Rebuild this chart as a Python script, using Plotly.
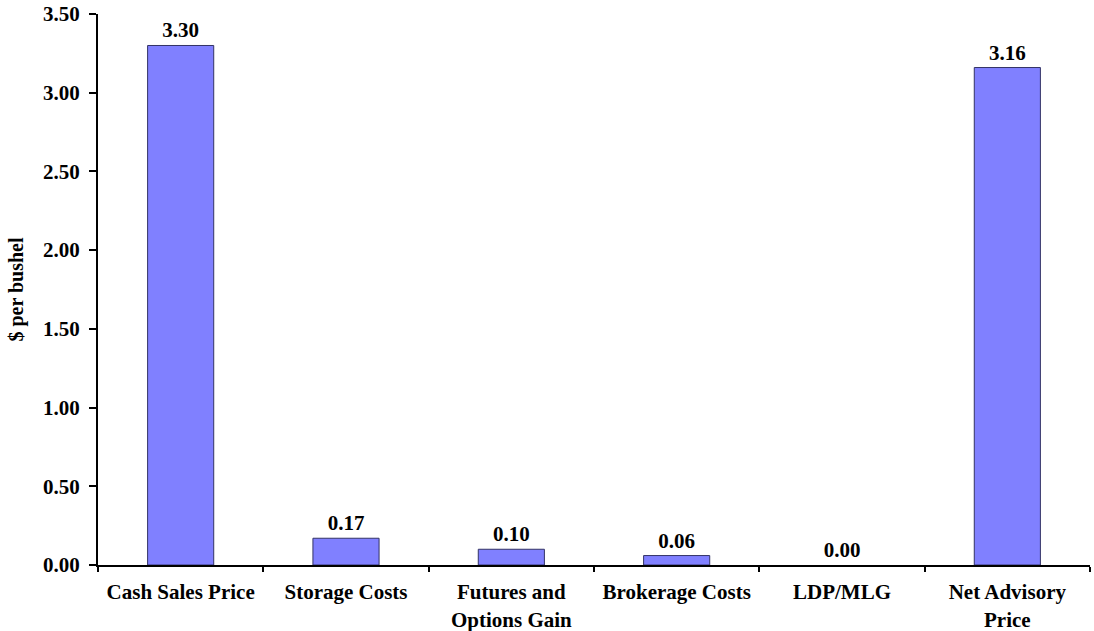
import plotly.graph_objects as go

categories = ["Cash Sales Price", "Storage Costs", "Futures and<br>Options Gain",
              "Brokerage Costs", "LDP/MLG", "Net Advisory<br>Price"]
values = [3.30, 0.17, 0.10, 0.06, 0.00, 3.16]

font = "Liberation Serif"

fig = go.Figure()
fig.add_trace(go.Bar(
    x=categories,
    y=values,
    width=0.4,
    marker=dict(color="#8080FF",
                line=dict(color="#333366", width=[1 if v else 0 for v in values])),
    text=[f"{v:.2f}" for v in values],
    textposition="outside",
    cliponaxis=False,
    textfont=dict(family=font, size=21, color="black", weight="bold"),
))

fig.update_layout(
    width=1094,
    height=631,
    margin=dict(l=98, r=4, t=14, b=66, autoexpand=False),
    plot_bgcolor="white",
    paper_bgcolor="white",
    showlegend=False,
    font=dict(family=font, size=21, color="black"),
    xaxis=dict(
        type="category", automargin=False,
        showline=True, linecolor="black", linewidth=2,
        ticks="outside", ticklen=5, tickwidth=2, tickcolor="black",
        tickson="boundaries", ticklabelstandoff=7,
        tickfont=dict(family=font, size=21, color="black", weight="bold"),
    ),
    yaxis=dict(
        range=[0, 3.5], dtick=0.5, tickformat=".2f", automargin=False,
        showline=True, linecolor="black", linewidth=2,
        ticks="outside", ticklen=7, tickwidth=2, tickcolor="black",
        ticklabelstandoff=5,
        showgrid=False, zeroline=False,
        tickfont=dict(family=font, size=21, color="black", weight="bold"),
        title=dict(text="$ per bushel", font=dict(family=font, size=20, color="black", weight="bold"), standoff=14),
    ),
)

# drop the default page margin so the figure fills the window
fig.write_html("out.html", config={"displayModeBar": False},
               post_script="document.body.style.margin='0';")
